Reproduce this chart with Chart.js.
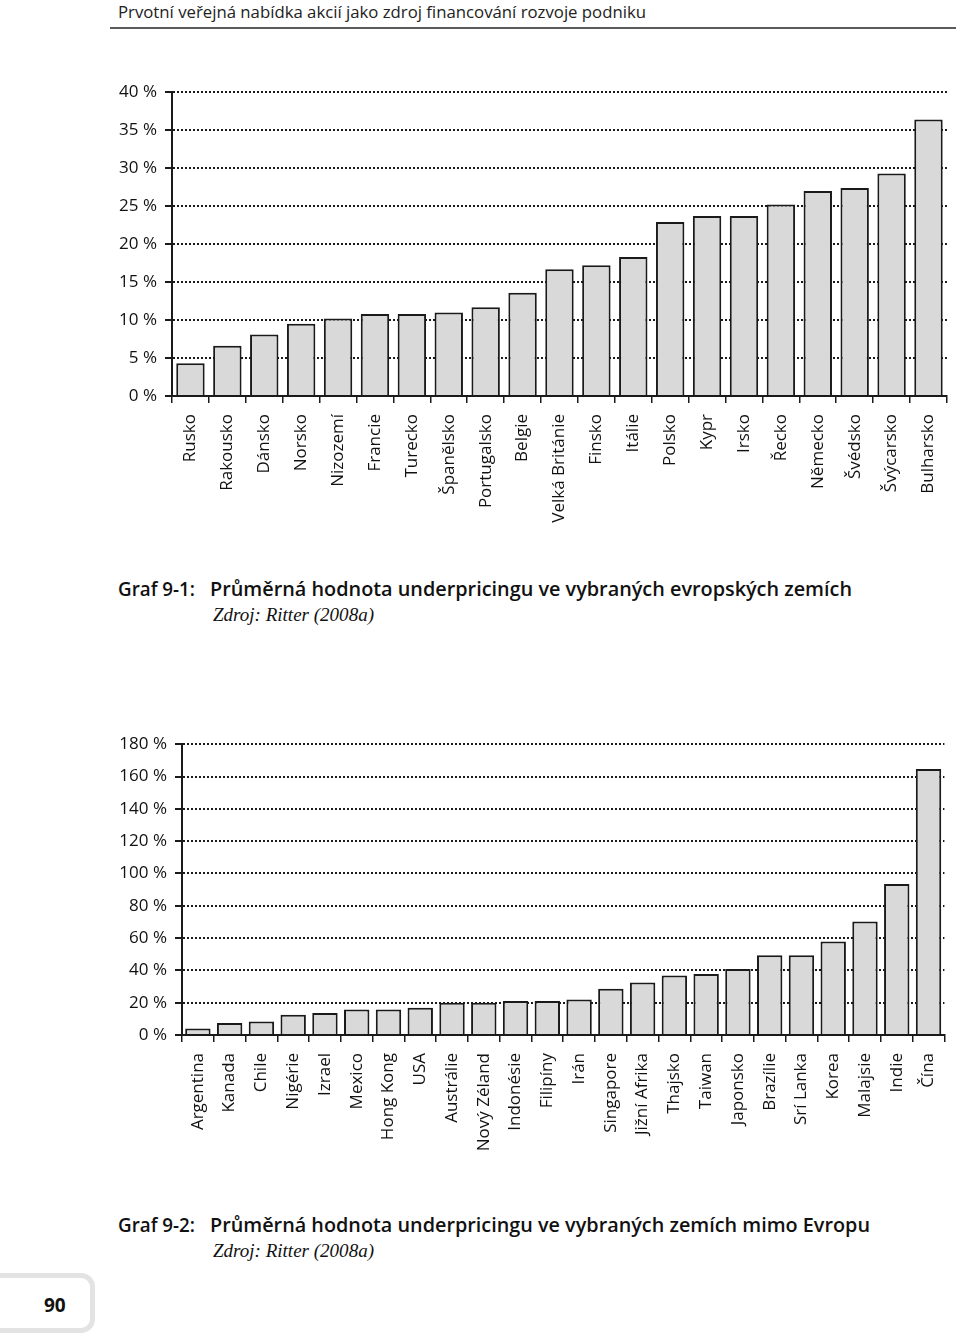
<!DOCTYPE html>
<html>
<head>
<meta charset="utf-8">
<script src="https://cdn.jsdelivr.net/npm/chart.js@4"></script>
<style>
  body { margin: 0; width: 960px; height: 1334px; background: #fff; position: relative; overflow: hidden; font-family: 'Open Sans', sans-serif; color: #111; }
  .t { position: absolute; white-space: nowrap; transform-origin: 0 50%; }
  .box { position: absolute; }
</style>
</head>
<body>

<div class="t" id="header" style="left:118px;font-size:16px;color:#222;">Prvotní veřejná nabídka akcií jako zdroj financování rozvoje podniku</div>
<div style="position:absolute;left:110px;top:27px;width:846px;height:2px;background:#5a5a5a;"></div>

<div class="box" style="left:100px;top:74px;width:860px;height:486px;"><canvas id="euroChart"></canvas></div>

<div class="t cap" id="g1" style="left:118px;font-size:19px;font-weight:600;">Graf 9-1:</div>
<div class="t cap" id="c1" style="left:210px;font-size:19px;font-weight:600;">Průměrná hodnota underpricingu ve vybraných evropských zemích</div>
<div class="t" id="z1" style="left:213px;font-size:18px;font-style:italic;font-family:'Liberation Serif',serif;">Zdroj: Ritter (2008a)</div>

<div class="box" style="left:100px;top:726px;width:860px;height:464px;"><canvas id="worldChart"></canvas></div>

<div class="t cap" id="g2" style="left:118px;font-size:19px;font-weight:600;">Graf 9-2:</div>
<div class="t cap" id="c2" style="left:210px;font-size:19px;font-weight:600;">Průměrná hodnota underpricingu ve vybraných zemích mimo Evropu</div>
<div class="t" id="z2" style="left:213px;font-size:18px;font-style:italic;font-family:'Liberation Serif',serif;">Zdroj: Ritter (2008a)</div>

<div style="position:absolute;left:-20px;top:1273px;width:105px;height:50px;border:5px solid #e3e3e3;border-radius:14px;"></div>
<div class="t" id="page" style="left:44px;font-size:19px;font-weight:700;">90</div>

<script>
// data
const euroCountries = ['Rusko', 'Rakousko', 'Dánsko', 'Norsko', 'Nizozemí', 'Francie', 'Turecko', 'Španělsko',
    'Portugalsko', 'Belgie', 'Velká Británie', 'Finsko', 'Itálie', 'Polsko', 'Kypr', 'Irsko', 'Řecko',
    'Německo', 'Švédsko', 'Švýcarsko', 'Bulharsko'];
const euroValues = [4.3, 6.6, 8.1, 9.5, 10.2, 10.8, 10.8, 11.0, 11.7, 13.6, 16.7, 17.2, 18.3,
    22.9, 23.7, 23.7, 25.2, 27.0, 27.4, 29.3, 36.4];

const worldCountries = ['Argentina', 'Kanada', 'Chile', 'Nigérie', 'Izrael', 'Mexico', 'Hong Kong', 'USA',
    'Austrálie', 'Nový Zéland', 'Indonésie', 'Filipíny', 'Irán', 'Singapore', 'Jižní Afrika', 'Thajsko',
    'Taiwan', 'Japonsko', 'Brazílie', 'Srí Lanka', 'Korea', 'Malajsie', 'Indie', 'Čína'];
const worldValues = [4.1, 7.4, 8.4, 12.5, 13.6, 15.8, 15.8, 16.9, 19.9, 19.9, 21.0, 21.0, 22.0,
    28.6, 32.5, 36.8, 37.8, 40.9, 49.4, 49.4, 57.8, 70.2, 93.4, 164.6];

const euroMax = 40, euroStep = 5;
const worldMax = 180, worldStep = 20;

Chart.defaults.font.family = "'Open Sans', sans-serif";
Chart.defaults.font.size = 17;
Chart.defaults.color = '#111';

function makeChart(id, labels, values, max, step, opts) {
    return new Chart(document.getElementById(id), {
        type: 'bar',
        data: {
            labels: labels,
            datasets: [{
                data: values,
                backgroundColor: '#d9d9d9',
                borderColor: '#1a1a1a',
                borderWidth: 2,
                barPercentage: opts.barPct,
                categoryPercentage: 1
            }]
        },
        options: {
            responsive: true,
            maintainAspectRatio: false,
            animation: false,
            layout: { padding: { top: 0, right: opts.right, left: 0, bottom: 0 } },
            plugins: { legend: { display: false }, tooltip: { enabled: false } },
            scales: {
                x: {
                    grid: { drawOnChartArea: false, drawTicks: true, tickLength: 7, color: '#1a1a1a', lineWidth: 1.5 },
                    border: { display: true, color: '#1a1a1a', width: 2 },
                    ticks: { autoSkip: false, minRotation: 90, maxRotation: 90, padding: 11 },
                    afterFit: s => { s.height = opts.xHeight; }
                },
                y: {
                    min: 0,
                    max: max,
                    grid: { color: '#1a1a1a', lineWidth: 2, tickLength: 7, tickBorderDash: [] },
                    border: { display: true, color: '#1a1a1a', width: 2, dash: [2, 2] },
                    ticks: { stepSize: step, padding: 8, callback: v => v + ' %' },
                    afterFit: s => { s.width = opts.yWidth; }
                }
            }
        }
    });
}

makeChart('euroChart', euroCountries, euroValues, euroMax, euroStep,
    { barPct: 0.77, right: 5, xHeight: 164, yWidth: 72 });
makeChart('worldChart', worldCountries, worldValues, worldMax, worldStep,
    { barPct: 0.8, right: 4, xHeight: 155, yWidth: 82 });

// text placement: centre line y, and optional target width
function place(id, cy, width) {
    const el = document.getElementById(id);
    const h = el.getBoundingClientRect().height;
    el.style.top = (cy - h / 2) + 'px';
    if (width) {
        const w = el.getBoundingClientRect().width;
        el.style.transform = 'scaleX(' + (width / w) + ')';
    }
}
place('header', 12, 528);
place('g1', 589, 77);
place('c1', 589, 642);
place('z1', 615, 161);
place('g2', 1225, 77);
place('c2', 1225, 660);
place('z2', 1251, 161);
place('page', 1305);
</script>
</body>
</html>
